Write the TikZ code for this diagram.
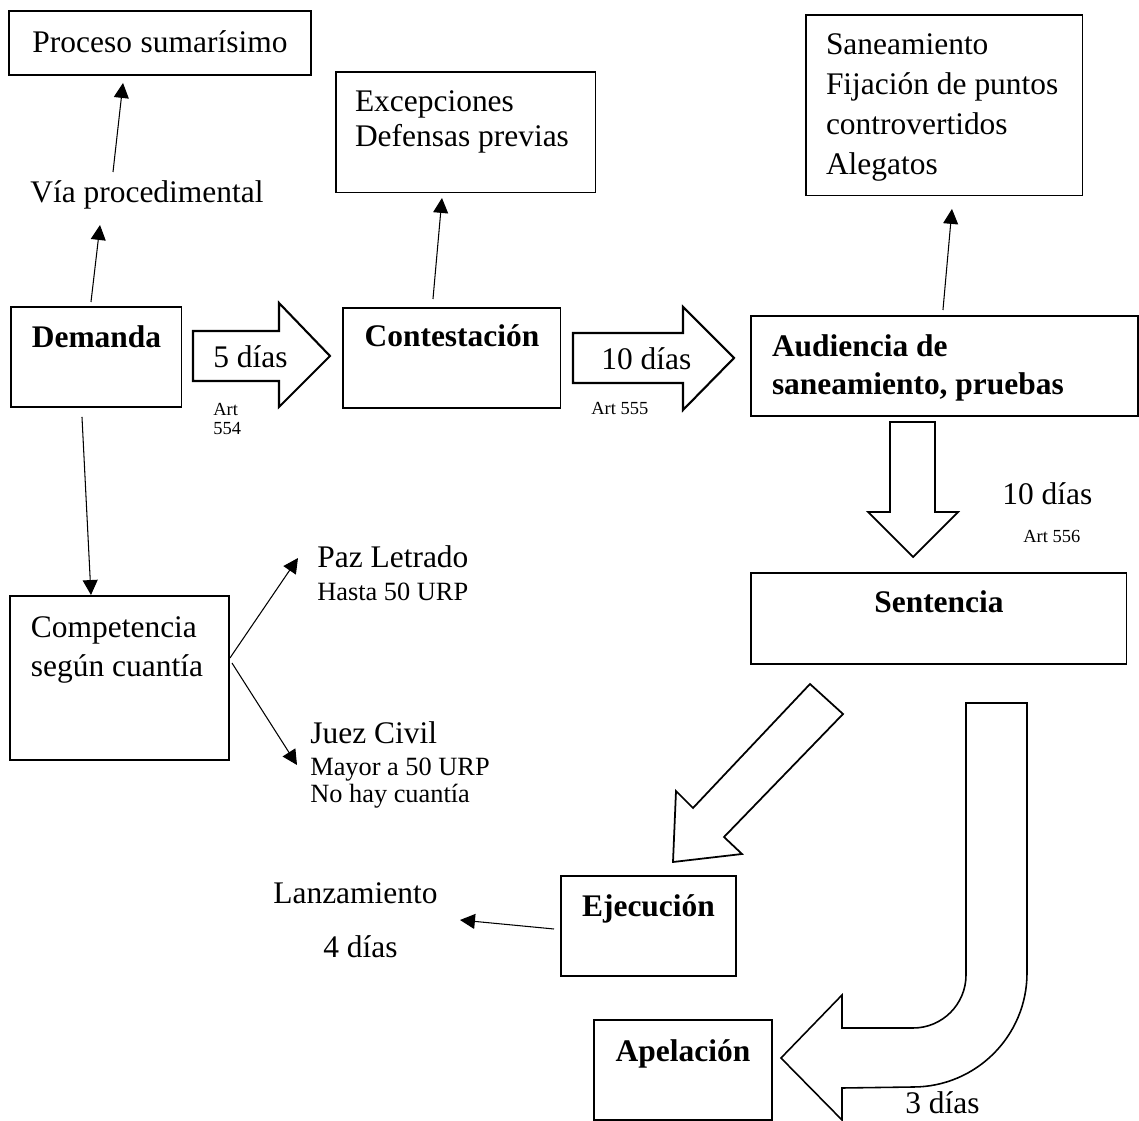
\documentclass[tikz,border=0pt]{standalone}
\usepackage{fontspec}
\setmainfont{Liberation Serif}
\usetikzlibrary{arrows.meta}
\tikzset{
	box/.style={draw, line width=0.6pt, anchor=north west, inner ysep=0pt, inner xsep=0.2cm, outer sep=0pt, align=center, font=\fontsize{17.9}{22}\selectfont\bfseries, execute at begin node={\spaceskip=0pt\xspaceskip=0pt\relax}},
	listbox/.style={box, align=left, font=\fontsize{17.9}{#1}\selectfont},
	heavy/.style={line width=1.2pt},
	txt/.style={anchor=base west, inner sep=0pt, font=\fontsize{17.9}{22}\selectfont},
	small/.style={anchor=base west, inner sep=0pt, font=\fontsize{15}{15.9}\selectfont},
	art/.style={anchor=base west, inner sep=0pt, font=\fontsize{10.5}{10.8}\selectfont},
	arr/.style={line width=0.6pt, -{Triangle[length=8.5pt,width=8.5pt]}},
	blk/.style={draw, fill=white, line width=1.2pt, line join=miter}
}

\begin{document}
\begin{tikzpicture}[x=0.02cm, y=-0.02cm]
			%%%%% START %%%%%
			\useasboundingbox (0,0) rectangle (1139,1121);
			
			\node[box, heavy, font=\fontsize{17.9}{22}\selectfont, text width=5.64cm, text height=0.84cm, text depth=0.44cm] (proc) at (9,11) {Proceso sumarísimo};
			\node[txt] (via) at (30,203) {Vía procedimental};
			
			\node[box, text width=3.02cm, text height=0.82cm, text depth=1.18cm] (dem) at (11,307) {Demanda};
			\node[box, text width=3.96cm, text height=0.78cm, text depth=1.22cm] (con) at (343,308) {Contestación};
			\node[listbox=19.8pt, inner xsep=0.38cm, text width=4.44cm, text height=0.8cm, text depth=1.62cm] (exc) at (336,72) {Excepciones\\\mbox{Defensas previas}};
			\node[listbox=21.5pt, font=\fontsize{17.9}{21.5}\selectfont\bfseries, line width=0.8pt, inner xsep=0.42cm, text width=6.9cm, text height=0.82cm, text depth=1.18cm] (aud) at (751,316) {\mbox{Audiencia de}\\\mbox{saneamiento, pruebas}};
			\node[listbox=22.7pt, inner xsep=0.4cm, text width=4.74cm, text height=0.8cm, text depth=2.82cm] (san) at (806,15) {Saneamiento\\\mbox{Fijación de puntos}\\controvertidos\\Alegatos};
			\node[box, text width=7.12cm, text height=0.8cm, text depth=1.02cm] (sen) at (751,573) {Sentencia};
			\node[listbox=22pt, heavy, inner xsep=0.42cm, text width=3.54cm, text height=0.84cm, text depth=2.44cm] (comp) at (10,596) {Competencia\\\mbox{según cuantía}};
			\node[box, text width=3.1cm, text height=0.82cm, text depth=1.18cm] (eje) at (561,876) {Ejecución};
			\node[box, text width=3.16cm, text height=0.84cm, text depth=1.16cm] (ape) at (594,1020) {Apelación};
			
			% plazos
			\draw[blk] (193,331) -- (279,331) -- (279,303) -- (330,356) -- (279,407) -- (279,381) -- (193,381) -- cycle;
			\node[txt] (d5) at (213,368) {5 días};
			\node[art] (art554) at (213,416) {\begin{tabular}[t]{@{}l@{}}Art\\554\end{tabular}};
			
			\draw[blk] (573,333) -- (683,333) -- (683,307) -- (734,358) -- (683,410) -- (683,383) -- (573,383) -- cycle;
			\node[txt] (d10) at (601,370) {10 días};
			\node[art] (art555) at (591,415) {Art 555};
			
			\draw[blk, line width=1pt] (890,422) -- (935,422) -- (935,512) -- (958,512) -- (913,557) -- (868,512) -- (890,512) -- cycle;
			\node[txt] (d10b) at (1002,504) {10 días};
			\node[art] (art556) at (1023,542) {Art 556};
			
			\draw[blk, line width=1pt] (810,684) -- (843,714) -- (724,837) -- (742,854) -- (673,862) -- (676,791) -- (693,808) -- cycle;
			
			\draw[blk, line width=0.9pt] (966,703) -- (1027,703) -- (1027,973) arc[start angle=0, end angle=90, radius=114] -- (842,1088) -- (842,1120) -- (781,1058) -- (842,995) -- (842,1028) -- (913,1028) arc[start angle=90, end angle=0, radius=53] -- cycle;
			\node[txt] (d3) at (905,1113) {3 días};
			
			% competencia
			\node[txt] (paz) at (317,567) {Paz Letrado};
			\node[small] (pazsub) at (317,600) {Hasta 50 URP};
			\node[txt] (juez) at (310,743) {Juez Civil};
			\node[small] (juezsub) at (310,775) {\begin{tabular}[t]{@{}l@{}}Mayor a 50 URP\\No hay cuantía\end{tabular}};
			
			\node[txt] (lan) at (273,903) {Lanzamiento};
			\node[txt] (d4) at (323,957) {4 días};
			
			% flechas
			\draw[arr] ([shift={(-5.5,-5)}]dem.north) -- ([shift={(70,22)}]via.base west);
			\draw[arr] ([shift={(83,-31)}]via.base west) -- ([shift={(114,8)}]proc.south west);
			\draw[arr] ([shift={(-19,-9)}]con.north) -- ([shift={(-24,5)}]exc.south);
			\draw[arr] ([shift={(-1.5,-6)}]aud.north) -- ([shift={(7.5,13)}]san.south);
			\draw[arr] ([shift={(-14.5,10)}]dem.south) -- ([shift={(-28.5,-1)}]comp.north);
			\draw[arr] ([shift={(1,-20)}]comp.east) -- ([shift={(-19,-9)}]paz.base west);
			\draw[arr] ([shift={(3,-15)}]comp.east) -- ([shift={(-13,22)}]juez.base west);
			\draw[arr] ([shift={(-7,3)}]eje.west) -- ([shift={(187,17)}]lan.base west);
			%%%%% END %%%%%
\end{tikzpicture}
\end{document}
